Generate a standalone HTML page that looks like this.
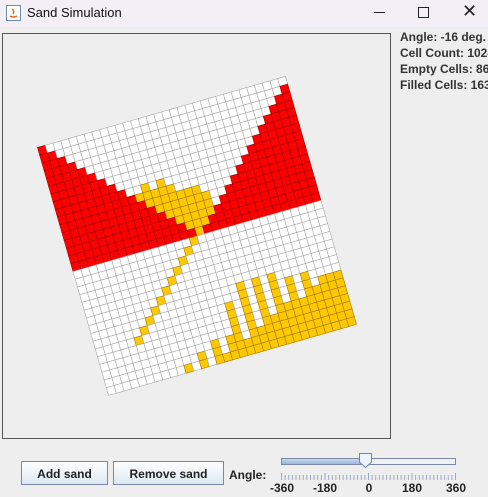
<!DOCTYPE html>
<html><head><meta charset="utf-8"><style>
body{margin:0;width:488px;height:497px;background:#eeeeee;font-family:"Liberation Sans",sans-serif;overflow:hidden;position:relative}
.abs{position:absolute}
.lbl{position:absolute;left:400px;font-weight:bold;font-size:12px;color:#333;white-space:nowrap}
.btn{position:absolute;top:461px;height:24px;border:1px solid #7a8aa6;background:linear-gradient(#ffffff,#dde8f3);font-weight:bold;font-size:12px;color:#222;text-align:center;line-height:24px;box-sizing:border-box}
.tl{position:absolute;top:481px;font-size:12px;font-weight:bold;color:#222;transform:translateX(-50%)}
</style></head><body>
<div class="abs" style="left:0;top:0;width:488px;height:27px;background:#f4eef7"></div>
<svg class="abs" style="left:6px;top:5px" width="15" height="16"><rect x="0.5" y="0.5" width="14" height="15" fill="#fff" stroke="#6a8ab0"/><path d="M4 11 Q7 13 11 11 M6 4 Q9 6 7 9" stroke="#e07020" fill="none" stroke-width="1.5"/></svg>
<div class="abs" style="left:27px;top:5px;font-size:13px;color:#111">Sand Simulation</div>
<div class="abs" style="left:374px;top:12px;width:11px;height:1px;background:#222"></div>
<div class="abs" style="left:418px;top:7px;width:9px;height:9px;border:1px solid #222"></div>
<div class="abs" style="left:462px;top:1px;font-size:18px;color:#222">✕</div>

<div class="abs" style="left:2px;top:33px;width:387px;height:404px;border:1px solid #555;overflow:hidden">
<svg id="grid" width="387" height="404"></svg>
</div>

<div class="lbl" style="top:30px">Angle: -16 deg.</div>
<div class="lbl" style="top:46px">Cell Count: 1024</div>
<div class="lbl" style="top:62px">Empty Cells: 861</div>
<div class="lbl" style="top:78px">Filled Cells: 163</div>

<div class="btn" style="left:21px;width:87px">Add sand</div>
<div class="btn" style="left:113px;width:111px">Remove sand</div>
<div class="abs" style="left:229px;top:468px;font-size:12px;font-weight:bold;color:#222">Angle:</div>

<div class="abs" style="left:281px;top:458px;width:173px;height:5px;border:1px solid #7a8aa6;background:#eef0f4"></div>
<div class="abs" style="left:282px;top:459px;width:80px;height:5px;background:linear-gradient(#c8d8ee,#9ab6dc)"></div>
<svg class="abs" style="left:358px;top:452px" width="15" height="17"><path d="M1.5 1.5 H13.5 V10 L7.5 15.5 L1.5 10 Z" fill="#eef4fb" stroke="#6a86b6"/></svg>
<svg class="abs" id="ticks" style="left:0;top:470px" width="488" height="12"></svg>
<div class="tl" style="left:282px">-360</div>
<div class="tl" style="left:325px">-180</div>
<div class="tl" style="left:369px">0</div>
<div class="tl" style="left:412px">180</div>
<div class="tl" style="left:456px">360</div>

<script>
// grid data
const gridSize = 32;
const angleDeg = -16;
// per row in top half: last red column on left, first red column on right
const redLeftEnd = [0,1,2,3,4,5,6,7,8,9,10,11,12,13,14,15];
const redRightStart = [32,31,30,29,28,27,26,25,24,23,22,21,20,19,18,17];
// top sand runs: [row, fromCol, toCol]
const topSandRuns = [[8,11,11],[8,13,13],[9,10,14],[10,11,17],[11,12,18],[12,13,18],[13,14,18],[14,15,17],[15,16,16]];
// falling diagonal sand cells: [col,row]
const fallingSand = [[15,16],[14,17],[13,18],[12,19],[11,20],[10,21],[9,22],[8,23],[7,24],[6,25],[5,26]];
// bottom pile heights per column (cells from bottom row)
const pileHeights = [0,0,0,0,0,0,0,0,0,0,1,0,2,0,3,1,3,7,2,9,3,9,4,9,5,8,5,8,6,7,7,7];

const svg = document.getElementById('grid');
const NS = 'http://www.w3.org/2000/svg';
const cs = 8.06;
const g = document.createElementNS(NS,'g');
g.setAttribute('transform','translate(34.5,113.5) rotate('+angleDeg+')');
svg.appendChild(g);
const state = [];
for (let r=0;r<gridSize;r++){ state.push(new Array(gridSize).fill(0)); }
for (let r=0;r<redLeftEnd.length;r++){
  for (let c=0;c<gridSize;c++){ if (c<=redLeftEnd[r] || c>=redRightStart[r]) state[r][c]=1; }
}
topSandRuns.forEach(([r,a,b])=>{ for(let c=a;c<=b;c++) state[r][c]=2; });
fallingSand.forEach(([c,r])=>{ state[r][c]=2; });
pileHeights.forEach((h,c)=>{ for(let k=0;k<h;k++) state[gridSize-1-k][c]=2; });
const fills=['#ffffff','#ff0000','#ffc800'];
const strokes=['#a8a8a8','#9a0000','#a07a00'];
for (let r=0;r<gridSize;r++) for (let c=0;c<gridSize;c++){
  const rc=document.createElementNS(NS,'rect');
  rc.setAttribute('x',c*cs); rc.setAttribute('y',r*cs);
  rc.setAttribute('width',cs); rc.setAttribute('height',cs);
  rc.setAttribute('fill',fills[state[r][c]]);
  rc.setAttribute('stroke',strokes[state[r][c]]);
  rc.setAttribute('stroke-width','0.6');
  
  
  g.appendChild(rc);
}
// slider ticks
const tickMin=-360, tickMax=360, minorStep=15, majorStep=180;
const tk=document.getElementById('ticks');
for(let v=tickMin; v<=tickMax; v+=minorStep){
  const x=281.5+(v-tickMin)/(tickMax-tickMin)*174;
  const ln=document.createElementNS(NS,'line');
  const major=(v%majorStep===0);
  ln.setAttribute('x1',x); ln.setAttribute('x2',x);
  ln.setAttribute('y1',major?3:5); ln.setAttribute('y2',10);
  ln.setAttribute('stroke','#9aaac4');
  
  
  tk.appendChild(ln);
}
</script>
</body></html>
